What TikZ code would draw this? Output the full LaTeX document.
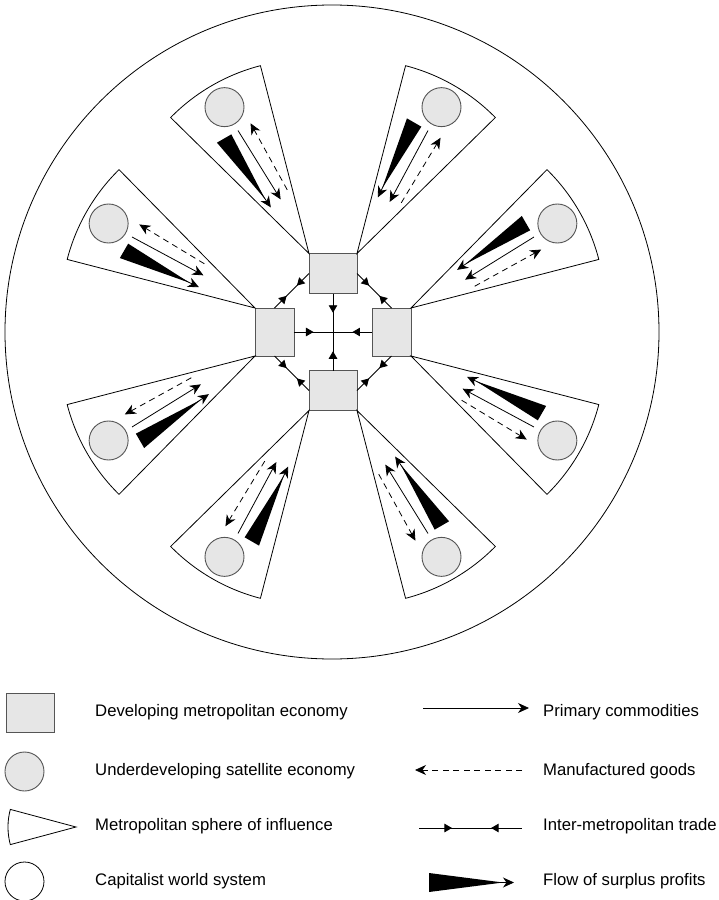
\documentclass[tikz,border=0pt]{standalone}
\usepackage{fontspec}
\setmainfont{Liberation Sans}
\usetikzlibrary{arrows.meta,decorations.markings}
\definecolor{boxgray}{RGB}{230,230,230}
\definecolor{edgegray}{RGB}{85,85,85}
\tikzset{
  tradetip/.tip={Triangle[length=7.5pt,width=8.5pt]},
  flowtip/.tip={Stealth[length=11pt,width=10pt,inset=3.5pt]},
  metro/.style={draw=edgegray, fill=boxgray, line width=0.9pt, inner sep=0pt, outer sep=0pt},
  metroH/.style={metro, minimum width=48pt, minimum height=40pt},
  metroV/.style={metro, minimum width=39pt, minimum height=48pt},
  sat/.style={circle, draw=edgegray, fill=boxgray, line width=0.9pt, minimum size=39pt, inner sep=0pt},
  world/.style={circle, draw=black, fill=white, line width=0.8pt, minimum size=39pt, inner sep=0pt},
  sphere/.style={draw=black, fill=white, line width=0.8pt},
  prim/.style={line width=0.8pt, -flowtip},
  manu/.style={line width=0.8pt, dash pattern=on 6pt off 4.5pt, -flowtip},
  surplus/.style={line width=0.8pt, -flowtip},
  tocenter/.style={line width=0.8pt, decoration={markings, mark=at position 0.5 with {\arrow{tradetip}}}, postaction={decorate}},
  twoway/.style={line width=0.8pt, decoration={markings, mark=at position 0.35 with {\arrow{tradetip}}, mark=at position 0.65 with {\arrowreversed{tradetip}}}, postaction={decorate}},
  legtrade/.style={line width=0.8pt, decoration={markings, mark=at position 0.32 with {\arrow{tradetip}}, mark=at position 0.70 with {\arrowreversed{tradetip}}}, postaction={decorate}},
  lbl/.style={anchor=base west, inner sep=0pt, font=\fontsize{16.7}{20}\selectfont},
}
\begin{document}
\begin{tikzpicture}[x=1pt,y=1pt]
\useasboundingbox (-333,-568) rectangle (386,332);
% world system
\draw[line width=0.8pt] (-1,0) circle[radius=327];
% metropoles
\coordinate (C) at (0,0);
\node[metroH] (T) at (0,58.5) {};
\node[metroH] (B) at (0,-58.5) {};
\node[metroV] (L) at (-58.5,0) {};
\node[metroV] (R) at (58.5,0) {};
% spheres of influence
\foreach \apex/\ang [count=\i] in {T.north west/120, T.north east/60, R.north east/30, R.south east/-30, B.south east/-60, B.south west/240, L.south west/210, L.north west/150}{
  \begin{scope}[shift={(\apex)}, rotate=\ang]
    \draw[sphere] (0,0) -- (-15.5:194) arc[start angle=-15.5, end angle=15.5, radius=194] -- cycle;
    \node[sat] (s\i) at (169,0) {};
    \fill (142,7.7) -- (142,24.3) -- (69,10.8) -- cycle;
    \draw[surplus] (80,11.5) -- (59,10);
    \draw[prim] (142,0) -- (61,-2.5);
    \draw[manu] (66,-13) -- (142,-14.5);
  \end{scope}
}
% inter-metropolitan trade
\draw[tocenter] (T.south) -- (C);
\draw[tocenter] (B.north) -- (C);
\draw[tocenter] (L.east) -- (C);
\draw[tocenter] (R.west) -- (C);
\draw[twoway] (T.west) -- (L.north);
\draw[twoway] (T.east) -- (R.north);
\draw[twoway] (B.west) -- (L.south);
\draw[twoway] (B.east) -- (R.south);
% legend, left column
\node[metro, minimum width=48pt, minimum height=39pt] (k1) at (-303,-380.5) {};
\node[sat] (k2) at (-308.5,-439.5) {};
\coordinate (k3) at (-257,-495);
\draw[sphere] (k3) -- ++(165:68) arc[start angle=165, end angle=195, radius=68] -- cycle;
\node[world] (k4) at (-308.5,-549.5) {};
\node[lbl] (t1) at (-238,-384.5) {Developing metropolitan economy};
\node[lbl] (t2) at (-238,-443.5) {Underdeveloping satellite economy};
\node[lbl] (t3) at (-238,-498) {Metropolitan sphere of influence};
\node[lbl] (t4) at (-238,-553.5) {Capitalist world system};
% legend, right column
\coordinate (a1) at (90,-376);  \coordinate (b1) at (196,-376);
\coordinate (a2) at (189,-438); \coordinate (b2) at (82,-438);
\coordinate (a3) at (86,-496);  \coordinate (b3) at (189,-496);
\coordinate (a4) at (150,-550.5); \coordinate (b4) at (181,-550.5);
\draw[prim] (a1) -- (b1);
\draw[manu] (a2) -- (b2);
\draw[legtrade] (a3) -- (b3);
\fill (96,-541) -- (96,-560) -- (170,-550.5) -- cycle;
\draw[surplus] (a4) -- (b4);
\node[lbl] (u1) at (210,-384.5) {Primary commodities};
\node[lbl] (u2) at (210,-443.5) {Manufactured goods};
\node[lbl] (u3) at (210,-498) {Inter-metropolitan trade};
\node[lbl] (u4) at (210,-553.5) {Flow of surplus profits};
\end{tikzpicture}
\end{document}
